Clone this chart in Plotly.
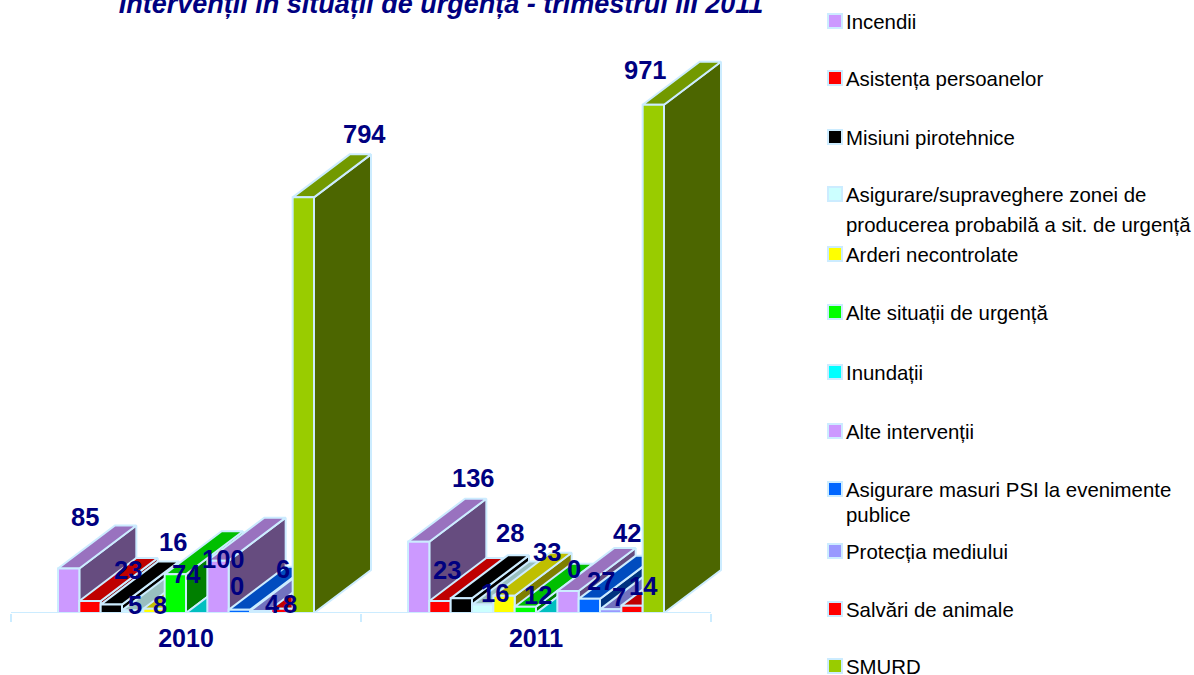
import plotly.graph_objects as go

YEARS = ["2010", "2011"]
TITLE = "Intervenții în situații de urgență - trimestrul III 2011"
SERIES = [
    "Incendii",
    "Asistența persoanelor",
    "Misiuni pirotehnice",
    "Asigurare/supraveghere zonei de\nproducerea probabilă a sit. de urgență",
    "Arderi necontrolate",
    "Alte situații de urgență",
    "Inundații",
    "Alte intervenții",
    "Asigurare masuri PSI la evenimente\npublice",
    "Protecția mediului",
    "Salvări de animale",
    "SMURD",
]
VALUES_2010 = [85, 23, 16, 5, 8, 74, 0, 100, 6, 4, 8, 794]
VALUES_2011 = [136, 23, 28, 16, 33, 12, 0, 42, 27, 7, 14, 971]
COLORS = ["#CC99FF", "#FF0000", "#000000", "#CCFFFF", "#FFFF00", "#00FF00",
          "#00FFFF", "#CC99FF", "#0066FF", "#9999FF", "#FF0000", "#99CC00"]

# label offsets (px right, px down) from each bar's top centre
SHIFT_2010 = [(16, -52), (38, -31), (62, -63), (2, -5), (6, -4), (11, 0),
              (40, -27), (5, -2), (44, -41), (12, -7), (8, -5), (61, -63)]
SHIFT_2011 = [(55, -64), (7, -31), (49, -65), (12, -12), (43, -44), (13, -12),
              (27, -44), (59, -58), (12, -18), (8, -12), (11, -20), (-8, -35)]
LEGEND_Y = [22, 79, 138, 195, 255, 313, 373, 432, 490, 552, 610, 667]
SECOND_LINE_Y = {3: 225, 8: 515}

W, H = 1194, 675
L, R, BASE = 11, 780, 613
PX_PER_UNIT = 0.5235
PX_PER_CAT = 350
BAR_W = 256 / 12 / PX_PER_CAT
DEPTH_X = 57 / PX_PER_CAT
DEPTH_Y = 43 / PX_PER_UNIT
EDGE = "#CCECFF"
NAVY = "#000080"
FONT = "Liberation Sans, Arial, sans-serif"


def px(x):
    return (x - L) / (R - L)


def py(y):
    return 1 - y / BASE


def shade(hex_color, k):
    r, g, b = (int(hex_color[i:i + 2], 16) for i in (1, 3, 5))
    return f"rgb({int(r * k)},{int(g * k)},{int(b * k)})"


def faces(k):
    fx, fy, tx, ty, sx, sy = [], [], [], [], [], []
    for cat, vals in enumerate((VALUES_2010, VALUES_2011)):
        v = vals[k]
        x0 = cat + (k - 6) * BAR_W
        x1 = x0 + BAR_W
        fx += [x0, x1, x1, x0, x0, None]
        fy += [0, 0, v, v, 0, None]
        tx += [x0, x1, x1 + DEPTH_X, x0 + DEPTH_X, x0, None]
        ty += [v, v, v + DEPTH_Y, v + DEPTH_Y, v, None]
        sx += [x1, x1 + DEPTH_X, x1 + DEPTH_X, x1, x1, None]
        sy += [0, DEPTH_Y, v + DEPTH_Y, v, 0, None]
    return (fx, fy), (tx, ty), (sx, sy)


fig = go.Figure()
for k, name in enumerate(SERIES):
    front, top, side = faces(k)
    for (xs, ys), factor in ((side, 0.5), (top, 0.75), (front, 1.0)):
        fig.add_trace(go.Scatter(
            x=xs, y=ys, mode="lines", fill="toself", name=name.replace("\n", " "),
            fillcolor=shade(COLORS[k], factor),
            line=dict(color=EDGE, width=2),
            showlegend=False, hoverinfo="skip", cliponaxis=False,
        ))

annotations = []
for cat, (vals, shifts) in enumerate(((VALUES_2010, SHIFT_2010), (VALUES_2011, SHIFT_2011))):
    for k, v in enumerate(vals):
        annotations.append(dict(
            x=cat + (k - 5.5) * BAR_W, y=v, xref="x", yref="y", text=str(v),
            showarrow=False, xanchor="center", yanchor="middle",
            xshift=shifts[k][0], yshift=-shifts[k][1],
            font=dict(family=FONT, size=25.5, color=NAVY, weight="bold"),
        ))

shapes = [dict(type="line", xref="x", yref="y", x0=-0.5, x1=1.5, y0=0, y1=0,
               line=dict(color=EDGE, width=2), layer="above")]
for k, name in enumerate(SERIES):
    yc = LEGEND_Y[k]
    lines = name.split("\n")
    for i, text in enumerate(lines):
        y_line = yc if i == 0 else SECOND_LINE_Y[k]
        annotations.append(dict(
            x=px(846), y=py(y_line), xref="paper", yref="paper", text=text,
            showarrow=False, xanchor="left", yanchor="middle", xshift=-2,
            font=dict(family=FONT, size=20.4, color="#000000"),
        ))
    shapes.append(dict(
        type="rect", xref="paper", yref="paper",
        x0=px(828), x1=px(842), y0=py(yc + 6), y1=py(yc - 8),
        fillcolor=COLORS[k], line=dict(color=EDGE, width=2),
    ))

fig.update_layout(
    width=W, height=H, autosize=False,
    margin=dict(l=L, r=W - R, t=0, b=H - BASE, pad=0),
    paper_bgcolor="white", plot_bgcolor="white", showlegend=False,
    title=dict(text=TITLE, x=441 / W, xanchor="center", y=1 - 4 / H, yanchor="middle",
               font=dict(family=FONT, size=27, color=NAVY, weight="bold", style="italic")),
    xaxis=dict(range=[-0.5, -0.5 + (R - L) / PX_PER_CAT], tickvals=[0, 1], ticktext=YEARS, ticks="",
               showgrid=False, zeroline=False, showline=False, ticklabelstandoff=8,
               tickfont=dict(family=FONT, size=25, color=NAVY, weight="bold"),
               minor=dict(tickvals=[-0.5, 0.5, 1.5], ticks="outside", ticklen=8,
                          tickcolor=EDGE, tickwidth=2, showgrid=False)),
    yaxis=dict(range=[0, BASE / PX_PER_UNIT], visible=False),
    annotations=annotations, shapes=shapes,
)
fig.write_html("out.html", config={"displayModeBar": False},
               post_script="document.body.style.margin='0';")
